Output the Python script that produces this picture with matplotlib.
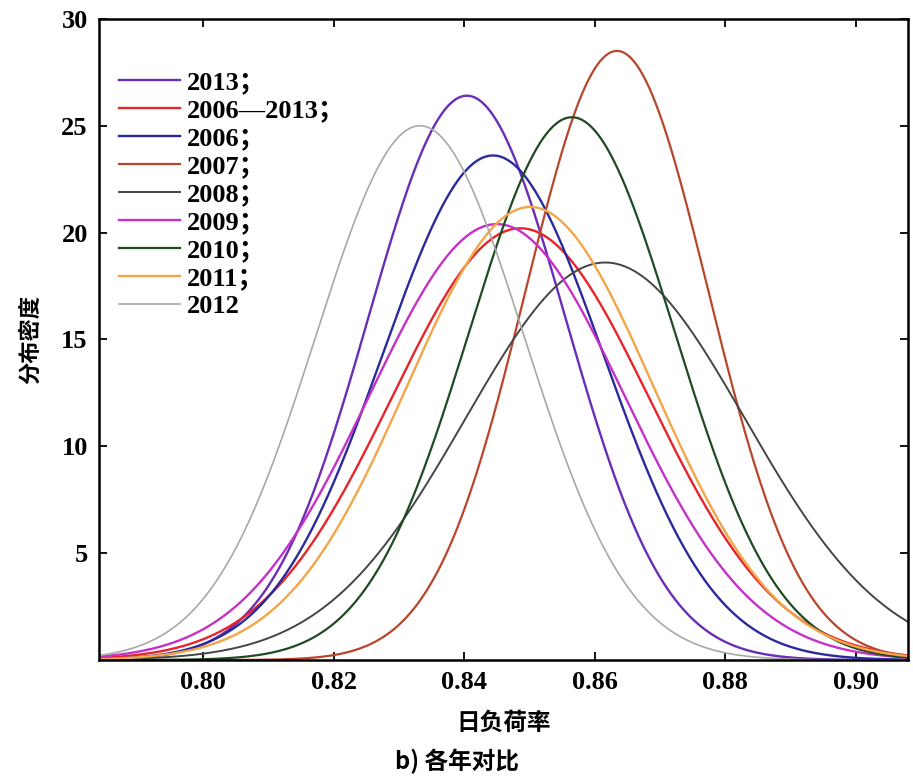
import numpy as np
import matplotlib
matplotlib.use("Agg")
import matplotlib.pyplot as plt

# normal fits: mean and std of daily load factor
labels = ["2013；", "2006—2013；", "2006；", "2007；", "2008；",
          "2009；", "2010；", "2011；", "2012"]
means = [0.8404, 0.8486, 0.8444, 0.8634, 0.8616, 0.8450, 0.8565, 0.8501, 0.8332]
stds = [0.01511, 0.01975, 0.01690, 0.01400, 0.02145, 0.01956, 0.01571, 0.01882, 0.01596]
colors = ["#6b2cb8", "#e8242a", "#2b2a9c", "#b8452c", "#454545",
          "#c531c8", "#1f4a22", "#f4a546", "#a8a8a8"]
widths = [1.7, 1.7, 1.7, 1.6, 1.4, 1.7, 1.6, 1.7, 1.2]

xticks = [0.80, 0.82, 0.84, 0.86, 0.88, 0.90]
yticks = [5, 10, 15, 20, 25, 30]

serif = ["Liberation Serif", "Noto Sans CJK SC"]
cjk = ["Noto Sans CJK SC", "DejaVu Sans"]

fig = plt.figure(figsize=(9.13, 7.83), dpi=100)
ax = fig.add_axes([0.1084, 0.157, 0.886, 0.819])

x = np.linspace(0.784, 0.908, 600)
for lab, mu, sd, c, w in zip(labels, means, stds, colors, widths):
    y = np.exp(-0.5 * ((x - mu) / sd) ** 2) / (sd * np.sqrt(2 * np.pi))
    ax.plot(x, y, color=c, lw=w, label=lab)

ax.set_xlim(0.784, 0.908)
ax.set_ylim(0, 30)
ax.set_xticks(xticks)
ax.set_xticklabels([f"{t:.2f}" for t in xticks])
ax.set_yticks(yticks)
ax.tick_params(direction="in", length=6, width=1.3, top=True, right=True,
               labelsize=19, pad=8)
for lbl in ax.get_xticklabels() + ax.get_yticklabels():
    lbl.set_family(serif)
    lbl.set_fontweight("bold")
for s in ax.spines.values():
    s.set_linewidth(1.8)

ax.set_xlabel("日负荷率", family=cjk, fontsize=17, fontweight="bold", labelpad=12)
ax.set_ylabel("分布密度", family=cjk, fontsize=16, fontweight="bold", labelpad=14)
fig.text(0.5, 0.028, "b) 各年对比", family=cjk, fontsize=17, fontweight="bold",
         ha="center", va="center")

leg = ax.legend(loc="upper left", bbox_to_anchor=(0.025, 0.919), frameon=False,
                prop={"family": serif, "weight": "bold", "size": 19},
                handlelength=2.3, handletextpad=0.25, labelspacing=0.17,
                borderaxespad=0, borderpad=0)

fig.savefig("out.png", dpi=100)
